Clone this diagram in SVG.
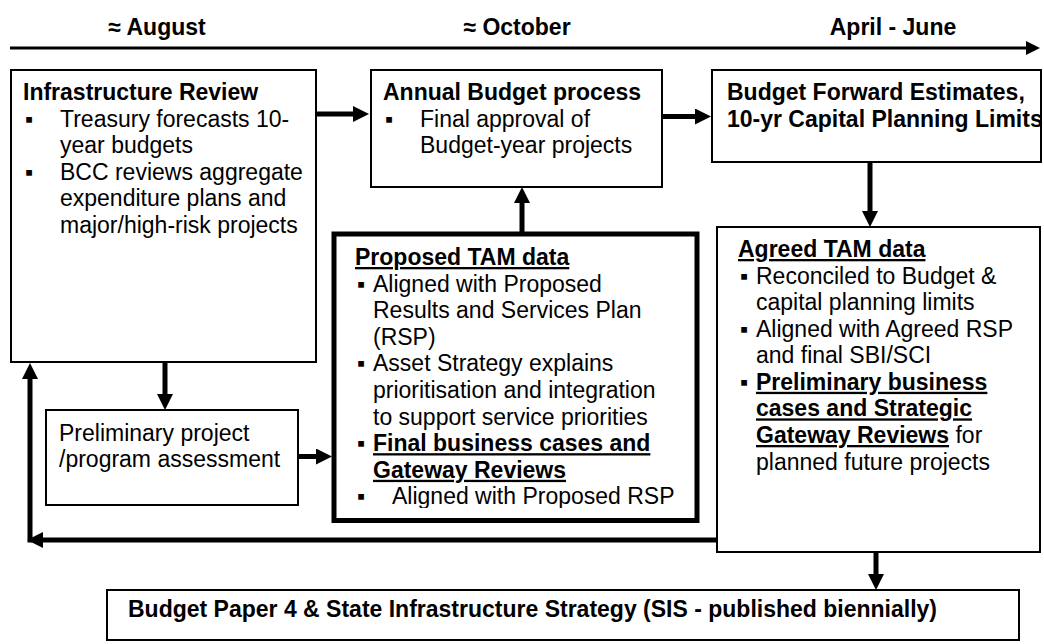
<svg xmlns="http://www.w3.org/2000/svg" width="1044" height="644" viewBox="0 0 1044 644">
  <style>
    text { font-family: "Liberation Sans", Arial, sans-serif; font-size: 23px; fill: #000; }
    .b { font-weight: bold; }
    .u { text-decoration: underline; }
    .box { fill: #fff; stroke: #000; stroke-width: 2; }
    .thick { fill: #fff; stroke: #000; stroke-width: 5; }
    .conn { fill: none; stroke: #000; stroke-width: 5; }
    .time { fill: none; stroke: #000; stroke-width: 3; }
  </style>
  <defs>
    <marker id="ah" viewBox="0 0 16 16" markerWidth="16" markerHeight="16" refX="6" refY="8" orient="auto" markerUnits="userSpaceOnUse">
      <path d="M0,0 L16,8 L0,16 z" fill="#000"/>
    </marker>
    <marker id="ahT" viewBox="0 0 14 14" markerWidth="14" markerHeight="14" refX="4" refY="7" orient="auto" markerUnits="userSpaceOnUse">
      <path d="M0,0 L14,7 L0,14 z" fill="#000"/>
    </marker>
    <clipPath id="tamClip">
      <rect x="336" y="236" width="359" height="272"/>
    </clipPath>
  </defs>
  <rect width="1044" height="644" fill="#fff"/>

  <g id="timeline">
    <line class="time" x1="10" y1="48" x2="1030" y2="48" marker-end="url(#ahT)"/>
    <text class="b" x="157" y="35" text-anchor="middle">≈ August</text>
    <text class="b" x="517" y="35" text-anchor="middle">≈ October</text>
    <text class="b" x="893" y="35" text-anchor="middle">April - June</text>
  </g>

  <g id="connectors">
    <line class="conn" x1="316" y1="114" x2="359" y2="114" marker-end="url(#ah)"/>
    <line class="conn" x1="662" y1="116.5" x2="701" y2="116.5" marker-end="url(#ah)"/>
    <line class="conn" x1="522" y1="232" x2="522" y2="197" marker-end="url(#ah)"/>
    <line class="conn" x1="870" y1="162" x2="870" y2="217" marker-end="url(#ah)"/>
    <line class="conn" x1="165" y1="362" x2="165" y2="400" marker-end="url(#ah)"/>
    <line class="conn" x1="298" y1="456.5" x2="322" y2="456.5" marker-end="url(#ah)"/>
    <line class="conn" x1="717" y1="540" x2="37" y2="540" marker-end="url(#ah)"/>
    <line class="conn" x1="30" y1="542.5" x2="30" y2="373" marker-end="url(#ah)"/>
    <line class="conn" x1="876" y1="552" x2="876" y2="580" marker-end="url(#ah)"/>
  </g>

  <g id="infrastructure-review">
    <rect class="box" x="11" y="70" width="305" height="292"/>
    <text class="b" x="23" y="100">Infrastructure Review</text>
    <text x="25" y="126.5">▪</text>
    <text x="60" y="126.5">Treasury forecasts 10-</text>
    <text x="60" y="153">year budgets</text>
    <text x="25" y="179.5">▪</text>
    <text x="60" y="179.5">BCC reviews aggregate</text>
    <text x="60" y="206">expenditure plans and</text>
    <text x="60" y="232.5">major/high-risk projects</text>
  </g>

  <g id="annual-budget">
    <rect class="box" x="371" y="70" width="291" height="117"/>
    <text class="b" x="383" y="100">Annual Budget process</text>
    <text x="385" y="126.5">▪</text>
    <text x="420" y="126.5">Final approval of</text>
    <text x="420" y="153">Budget-year projects</text>
  </g>

  <g id="budget-forward-estimates">
    <rect class="box" x="712" y="70" width="329" height="92"/>
    <text class="b" x="727" y="100">Budget Forward Estimates,</text>
    <text class="b" x="727" y="126.5">10-yr Capital Planning Limits</text>
  </g>

  <g id="proposed-tam">
    <rect class="thick" x="334" y="234" width="363" height="286.5"/>
    <g clip-path="url(#tamClip)">
      <text class="b u" x="355" y="265">Proposed TAM data</text>
      <text x="357" y="291.6">▪</text>
      <text x="373" y="291.6">Aligned with Proposed</text>
      <text x="373" y="318.2">Results and Services Plan</text>
      <text x="373" y="344.8">(RSP)</text>
      <text x="357" y="371.4">▪</text>
      <text x="373" y="371.4">Asset Strategy explains</text>
      <text x="373" y="398">prioritisation and integration</text>
      <text x="373" y="424.6">to support service priorities</text>
      <text x="357" y="451.2">▪</text>
      <text class="b u" x="373" y="451.2">Final business cases and</text>
      <text class="b u" x="373" y="477.8">Gateway Reviews</text>
      <text x="357" y="504.4">▪</text>
      <text x="392" y="504.4">Aligned with Proposed RSP</text>
    </g>
  </g>

  <g id="preliminary-assessment">
    <rect class="box" x="46" y="410" width="252" height="95"/>
    <text x="59" y="441">Preliminary project</text>
    <text x="59" y="467">/program assessment</text>
  </g>

  <g id="agreed-tam">
    <rect class="box" x="717" y="227" width="323" height="325"/>
    <text class="b u" x="738" y="257">Agreed TAM data</text>
    <text x="740" y="283.5">▪</text>
    <text x="756" y="283.5">Reconciled to Budget &amp;</text>
    <text x="756" y="310">capital planning limits</text>
    <text x="740" y="336.6">▪</text>
    <text x="756" y="336.6">Aligned with Agreed RSP</text>
    <text x="756" y="363.2">and final SBI/SCI</text>
    <text x="740" y="389.8">▪</text>
    <text class="b u" x="756" y="389.8">Preliminary business</text>
    <text class="b u" x="756" y="416.4">cases and Strategic</text>
    <text x="756" y="443"><tspan class="b u">Gateway Reviews</tspan> for</text>
    <text x="756" y="469.6">planned future projects</text>
  </g>

  <g id="budget-paper-4">
    <rect class="box" x="107" y="590" width="912" height="50"/>
    <text class="b" x="128" y="616.5">Budget Paper 4 &amp; State Infrastructure Strategy (SIS - published biennially)</text>
  </g>
</svg>
